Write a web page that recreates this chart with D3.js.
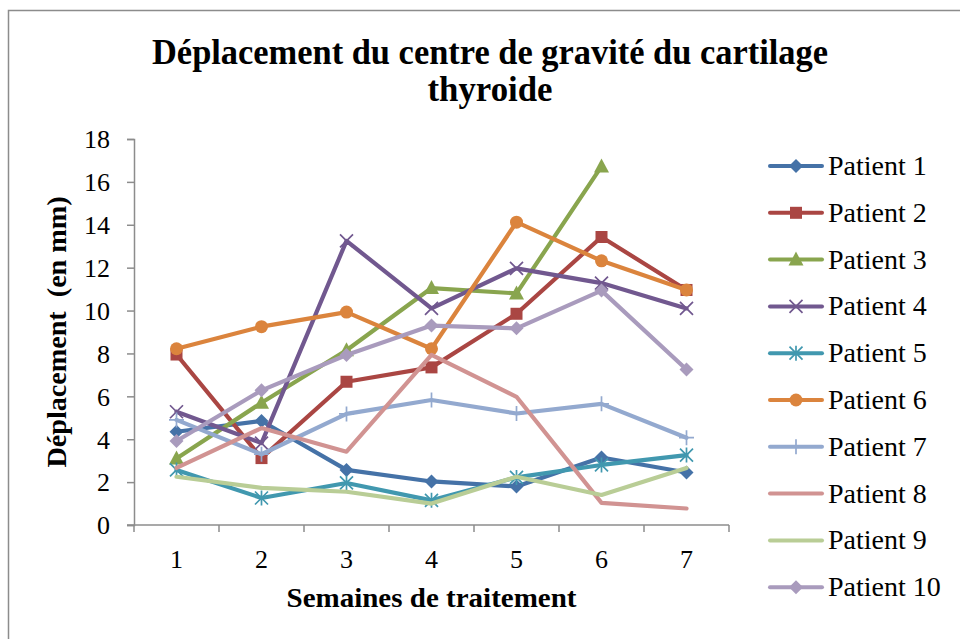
<!DOCTYPE html>
<html>
<head>
<meta charset="utf-8">
<script src="https://cdn.jsdelivr.net/npm/d3@7"></script>
<style>
  html, body { margin: 0; padding: 0; background: #fff; }
  svg { display: block; }
  text { font-family: "Liberation Serif", "DejaVu Serif", serif; fill: #000; }
</style>
</head>
<body>
<svg id="chart" width="960" height="639"></svg>
<script>
// Weeks of treatment (x categories)
const weeks = [1, 2, 3, 4, 5, 6, 7];
const yTicks = [0, 2, 4, 6, 8, 10, 12, 14, 16, 18];

// Displacement (mm) per patient, one value per week (null = not measured)
const patient1  = [4.35, 4.85, 2.57, 2.03, 1.8, 3.15, 2.45];
const patient2  = [7.95, 3.12, 6.68, 7.35, 9.85, 13.43, 10.96];
const patient3  = [3.1, 5.7, 8.15, 11.05, 10.8, 16.72, null];
const patient4  = [5.28, 3.82, 13.25, 10.1, 11.97, 11.28, 10.1];
const patient5  = [2.57, 1.26, 1.96, 1.15, 2.22, 2.8, 3.26];
const patient6  = [8.22, 9.25, 9.93, 8.22, 14.12, 12.32, 10.96];
const patient7  = [4.9, 3.3, 5.18, 5.83, 5.2, 5.65, 4.07];
const patient8  = [2.66, 4.52, 3.42, 7.93, 5.98, 1.03, 0.77];
const patient9  = [2.25, 1.73, 1.55, 1.0, 2.25, 1.4, 2.66];
const patient10 = [3.92, 6.28, 7.93, 9.3, 9.17, 10.93, 7.25];

const seriesNames = ["Patient 1", "Patient 2", "Patient 3", "Patient 4", "Patient 5",
                     "Patient 6", "Patient 7", "Patient 8", "Patient 9", "Patient 10"];
const seriesValues = [patient1, patient2, patient3, patient4, patient5,
                      patient6, patient7, patient8, patient9, patient10];
const seriesColors = ["#4572a7", "#aa4643", "#89a54e", "#71588f", "#4198af",
                      "#db843d", "#93a9cf", "#d19392", "#b9cd96", "#a99bbd"];
const seriesMarkers = ["diamond", "square", "triangle", "x", "asterisk",
                       "circle", "plus", "none", "none", "diamond"];

const titleLines = ["Déplacement du centre de gravité du cartilage", "thyroide"];
const yTitle = "Déplacement  (en mm)";
const xTitle = "Semaines de traitement";

const svg = d3.select("#chart");
const margin = { left: 134, right: 729, top: 139, bottom: 525 };

// Outer chart frame
svg.append("rect")
  .attr("x", 8.5).attr("y", 10.5)
  .attr("width", 1000).attr("height", 1000)
  .attr("fill", "none").attr("stroke", "#8c8c8c").attr("stroke-width", 1.5);

const x = d3.scaleBand().domain(weeks).range([margin.left, margin.right]).paddingInner(0).paddingOuter(0);
const y = d3.scaleLinear().domain([0, 18]).range([margin.bottom, margin.top]);
const xc = d => x(d) + x.bandwidth() / 2;

// Y axis
const yAxis = svg.append("g")
  .attr("transform", `translate(${margin.left},0)`)
  .call(d3.axisLeft(y).tickValues(yTicks).tickSize(7).tickPadding(17));
yAxis.select(".domain").attr("stroke", "#8c8c8c").attr("stroke-width", 1.5);
yAxis.selectAll(".tick line").attr("stroke", "#8c8c8c").attr("stroke-width", 1.5);
yAxis.selectAll(".tick text")
  .attr("font-family", "Liberation Serif, serif").attr("font-size", 26).attr("fill", "#000")
  .attr("dy", "0.34em");

// X axis: ticks sit between categories
const xAxis = svg.append("g").attr("transform", `translate(0,${margin.bottom})`);
xAxis.append("line")
  .attr("x1", margin.left - 7).attr("x2", margin.right)
  .attr("stroke", "#8c8c8c").attr("stroke-width", 1.5);
const bounds = weeks.map(w => x(w)).concat([margin.right]);
xAxis.selectAll("line.tk").data(bounds).join("line").attr("class", "tk")
  .attr("x1", d => d).attr("x2", d => d).attr("y1", 0).attr("y2", 7)
  .attr("stroke", "#8c8c8c").attr("stroke-width", 1.5);
xAxis.selectAll("text").data(weeks).join("text")
  .attr("x", d => xc(d)).attr("y", 43)
  .attr("text-anchor", "middle").attr("font-size", 26)
  .text(d => d);

// Titles
svg.append("text")
  .attr("text-anchor", "middle").attr("font-weight", "bold").attr("font-size", 35)
  .selectAll("tspan").data(titleLines).join("tspan")
  .attr("x", 490).attr("y", (d, i) => 64 + i * 37)
  .attr("textLength", (d, i) => i === 0 ? 676 : 125)
  .attr("lengthAdjust", "spacingAndGlyphs")
  .text(d => d);

svg.append("text")
  .attr("transform", `translate(66,${(margin.top + margin.bottom) / 2}) rotate(-90)`)
  .attr("text-anchor", "middle").attr("font-weight", "bold").attr("font-size", 27)
  .attr("xml:space", "preserve")
  .attr("textLength", 271).attr("lengthAdjust", "spacingAndGlyphs")
  .text(yTitle);

svg.append("text")
  .attr("x", (margin.left + margin.right) / 2).attr("y", 607)
  .attr("text-anchor", "middle").attr("font-weight", "bold").attr("font-size", 27)
  .attr("textLength", 290).attr("lengthAdjust", "spacingAndGlyphs")
  .text(xTitle);

// Marker drawing
function drawMarker(g, type, color, cx, cy) {
  const s = 7;
  if (type === "diamond") {
    g.append("path").attr("d", `M${cx},${cy - s}L${cx + s},${cy}L${cx},${cy + s}L${cx - s},${cy}Z`).attr("fill", color);
  } else if (type === "square") {
    g.append("rect").attr("x", cx - 6).attr("y", cy - 6).attr("width", 12).attr("height", 12).attr("fill", color);
  } else if (type === "triangle") {
    g.append("path").attr("d", `M${cx},${cy - 8}L${cx + 7.5},${cy + 6}L${cx - 7.5},${cy + 6}Z`).attr("fill", color);
  } else if (type === "circle") {
    g.append("circle").attr("cx", cx).attr("cy", cy).attr("r", 6.5).attr("fill", color);
  } else if (type === "x") {
    g.append("path").attr("d", `M${cx - 6.5},${cy - 6.5}L${cx + 6.5},${cy + 6.5}M${cx + 6.5},${cy - 6.5}L${cx - 6.5},${cy + 6.5}`)
      .attr("stroke", color).attr("stroke-width", 1.7);
  } else if (type === "asterisk") {
    g.append("path").attr("d", `M${cx - 6.5},${cy - 6.5}L${cx + 6.5},${cy + 6.5}M${cx + 6.5},${cy - 6.5}L${cx - 6.5},${cy + 6.5}M${cx},${cy - 7.5}L${cx},${cy + 7.5}`)
      .attr("stroke", color).attr("stroke-width", 1.7);
  } else if (type === "plus") {
    g.append("path").attr("d", `M${cx},${cy - 7.5}L${cx},${cy + 7.5}M${cx - 7.5},${cy}L${cx + 7.5},${cy}`)
      .attr("stroke", color).attr("stroke-width", 1.7);
  }
}

// Series lines with markers
const line = d3.line()
  .defined(d => d.v !== null)
  .x(d => xc(d.w)).y(d => y(d.v));

seriesValues.forEach((vals, i) => {
  const pts = weeks.map((w, k) => ({ w, v: vals[k] }));
  const g = svg.append("g");
  g.append("path").datum(pts)
    .attr("d", line).attr("fill", "none")
    .attr("stroke", seriesColors[i]).attr("stroke-width", 4.2)
    .attr("stroke-linejoin", "round").attr("stroke-linecap", "round");
  pts.filter(d => d.v !== null).forEach(d => drawMarker(g, seriesMarkers[i], seriesColors[i], xc(d.w), y(d.v)));
});

// Legend
const legend = svg.append("g");
seriesNames.forEach((name, i) => {
  const ly = 166 + i * 46.8;
  const g = legend.append("g");
  g.append("line").attr("x1", 770).attr("x2", 822).attr("y1", ly).attr("y2", ly)
    .attr("stroke", seriesColors[i]).attr("stroke-width", 4).attr("stroke-linecap", "round");
  drawMarker(g, seriesMarkers[i], seriesColors[i], 796, ly);
  g.append("text").attr("x", 828).attr("y", ly + 9)
    .attr("font-size", 28).text(name);
});
</script>
</body>
</html>
